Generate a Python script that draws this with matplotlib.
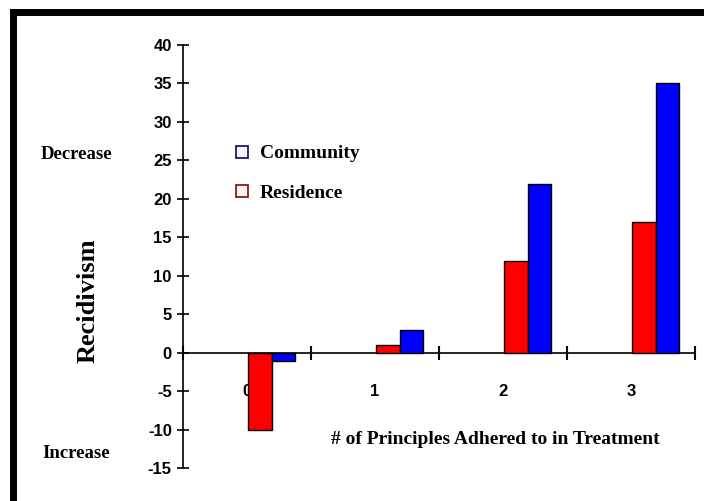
import matplotlib
matplotlib.use('Agg')
import matplotlib.pyplot as plt
from matplotlib.lines import Line2D

# data
categories = ["0", "1", "2", "3"]
residence = [-10, 1, 12, 17]
community = [-1, 3, 22, 35]
yticks = [-15, -10, -5, 0, 5, 10, 15, 20, 25, 30, 35, 40]

RED = "#FF0000"
BLUE = "#0000FF"
NUM_FONT = ["Liberation Sans Narrow", "Liberation Sans", "DejaVu Sans"]
TXT_FONT = ["Liberation Serif", "DejaVu Serif"]

fig = plt.figure(figsize=(7.04, 5.01), dpi=100)
ax = fig.add_axes([0.2599, 0.0649, 0.7273, 0.8453])

# bars sit in the right half of each category slot
pos = [i + 0.5 for i in range(len(categories))]
ax.bar([p + 0.1 for p in pos], residence, width=0.185, color=RED,
       edgecolor="black", linewidth=1.0, zorder=3)
ax.bar([p + 0.285 for p in pos], community, width=0.185, color=BLUE,
       edgecolor="black", linewidth=1.0, zorder=3)

ax.set_xlim(0, 4)
ax.set_ylim(-15, 40)

for s in ["top", "right"]:
    ax.spines[s].set_visible(False)
ax.spines["bottom"].set_position(("data", 0))
ax.spines["bottom"].set_linewidth(1.2)
ax.spines["left"].set_linewidth(1.2)

ax.set_xticks(range(len(categories) + 1))
ax.set_xticklabels([])
ax.tick_params(axis="x", direction="inout", length=10, width=1.5)
ax.set_yticks(yticks)
ax.set_yticklabels([str(v) for v in yticks], family=NUM_FONT,
                   fontweight="bold", fontsize=12)
ax.tick_params(axis="y", direction="inout", length=8, width=1.2, pad=4)

for p, c in zip(pos, categories):
    ax.text(p, -5, c, ha="center", va="center", family=NUM_FONT,
            fontweight="bold", fontsize=12, zorder=2)

ax.text(2.44, -11.3, "# of Principles Adhered to in Treatment",
        ha="center", va="center", family=TXT_FONT, fontweight="bold",
        fontsize=14)

handles = [
    Line2D([], [], marker="s", ls="none", markersize=8,
           markerfacecolor="#f4f4fa", markeredgecolor="#1a1a60",
           markeredgewidth=1.3, label="Community"),
    Line2D([], [], marker="s", ls="none", markersize=8,
           markerfacecolor="#fbf2f2", markeredgecolor="#8a1a1a",
           markeredgewidth=1.3, label="Residence"),
]
fig.legend(handles=handles, loc="center left",
           bbox_to_anchor=(0.333, 0.654), frameon=False,
           prop={"family": TXT_FONT, "weight": "bold", "size": 14},
           handlelength=0.8, handletextpad=0.5, labelspacing=1.12,
           borderpad=0, borderaxespad=0)

fig.text(0.109, 0.691, "Decrease", ha="center", va="center",
         family=TXT_FONT, fontweight="bold", fontsize=13.5)
fig.text(0.108, 0.094, "Increase", ha="center", va="center",
         family=TXT_FONT, fontweight="bold", fontsize=13.5)
fig.text(0.125, 0.40, "Recidivism", ha="center", va="center",
         rotation=90, family=TXT_FONT, fontweight="bold", fontsize=19)

# thick frame on the top and left edges
fig.add_artist(Line2D([0.0178, 1.0], [0.977, 0.977], color="black",
                      lw=5, transform=fig.transFigure,
                      solid_capstyle="projecting"))
fig.add_artist(Line2D([0.0178, 0.0178], [0.0, 0.977], color="black",
                      lw=5, transform=fig.transFigure,
                      solid_capstyle="projecting"))

fig.savefig("out.png", dpi=100)
